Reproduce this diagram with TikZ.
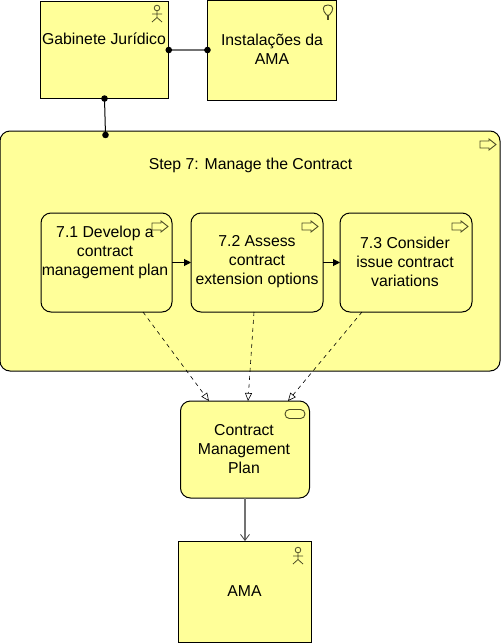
\documentclass[tikz,border=0pt]{standalone}
\usepackage{fontspec}
\setmainfont{Liberation Sans}
\usetikzlibrary{arrows.meta,calc,positioning}
\definecolor{boxfill}{HTML}{FFFF99}
\definecolor{iconline}{HTML}{4D4D26}
\tikzset{
  actorbox/.style={draw=black,fill=boxfill,line width=1pt,inner sep=0pt,outer sep=0pt},
  stepbox/.style={actorbox,rounded corners=10pt},
  boxtext/.style={align=center,font=\fontsize{15.8}{19}\selectfont,inner sep=0pt},
  assoc/.style={{Circle[black,length=6.5pt]}-{Circle[black,length=6.5pt]},shorten <=-3.2pt,shorten >=-3.2pt},
  flow/.style={-{Triangle[length=7pt,width=7pt]},line width=1pt},
  realize/.style={-{Triangle[open,length=8pt,width=7pt]},line width=0.6pt,dash pattern=on 4pt off 4pt},
  serve/.style={-{Straight Barb[black!75,length=6pt,width=9pt,line width=0.8pt]},line width=1.4pt,draw=black!55},
  actoricon/.pic={
    \draw[iconline,line width=0.8pt] (0,0) circle (2.8);
    \draw[iconline,line width=0.8pt] (0,2.8) -- (0,9.5) (-5,6) -- (5,6) (-5,14) -- (0,9.5) -- (5,14);
  },
  arrowicon/.pic={
    \draw[iconline,line width=0.9pt] (0,2) -- (9,2) -- (9,0) -- (16,5.5) -- (9,11) -- (9,9) -- (0,9) -- cycle;
  },
  bulbicon/.pic={
    \draw[iconline,line width=0.9pt] (-1.5,10) .. controls (-6,5) and (-6,0) .. (0,0) .. controls (6,0) and (6,5) .. (1.5,10) -- cycle;
    \draw[iconline,line width=1.6pt] (0,10) -- (0,15);
  },
}
\begin{document}
\begin{tikzpicture}[x=1pt,y=-1pt]
  \useasboundingbox (0,0) rectangle (502,643);
  % outer step and its sub-steps
  \node[stepbox,minimum width=500pt,minimum height=240pt] (step7) at (250,251) {};
  \foreach \name/\cx/\boxw in {p71/106.5/131, p72/257/132, p73/406/132} {
    \node[stepbox,minimum width=\boxw pt,minimum height=99pt] (\name) at (\cx,262.5) {};
  }
  % boxes outside the step
  \node[actorbox,minimum width=128.5pt,minimum height=97pt] (gab) at (104.5,50) {};
  \node[actorbox,minimum width=129pt,minimum height=100pt] (inst) at (272,50) {};
  \node[stepbox,minimum width=129pt,minimum height=97pt] (plan) at (245,449.5) {};
  \node[actorbox,minimum width=133.5pt,minimum height=101pt] (ama) at (245,591.5) {};
  % texts
  \node[boxtext] (gabtext) at (104,39) {Gabinete Jurídico};
  \node[boxtext] (insttext) at (272,49) {Instalações da\\AMA};
  \node[boxtext] (steptext) at (250.5,165) {Step 7: Manage the Contract};
  \node[boxtext] (p71text) at (105,252) {7.1 Develop a\\contract\\management plan};
  \node[boxtext] (p72text) at (257,262) {7.2 Assess\\contract\\extension options};
  \node[boxtext] (p73text) at (405,262) {7.3 Consider\\issue contract\\variations};
  \node[boxtext] (plantext) at (244,449) {Contract\\Management\\Plan};
  \node[boxtext] (amatext) at (244.5,591) {AMA};
  % icons
  \pic at (157,8) {actoricon};
  \pic at (298,550) {actoricon};
  \pic at (328,5) {bulbicon};
  \pic at (480,139) {arrowicon};
  \foreach \ix in {152,302,452} {
    \pic at (\ix,221) {arrowicon};
  }
  \draw[iconline,line width=0.9pt,rounded corners=4.4pt] (285,409.5) rectangle (305,418.5);
  % free ends of the connectors
  \coordinate (gabin) at (105.5,135);
  \coordinate (out1) at (143,312);
  \coordinate (out2) at (254,312);
  \coordinate (out3) at (362,312);
  \coordinate (in1) at (209,401);
  \coordinate (in2) at (248,401);
  \coordinate (in3) at (288,401);
  % connectors
  \draw[assoc,line width=1.4pt,draw=black!55] (gab.east) -- (inst.west);
  \draw[assoc,line width=1pt] (gab.south) -- (gabin);
  \draw[flow] (p71.east) -- (p72.west);
  \draw[flow] (p72.east) -- (p73.west);
  \draw[realize] (out1) -- (in1);
  \draw[realize] (out2) -- (in2);
  \draw[realize] (out3) -- (in3);
  \draw[serve] (plan.south) -- (ama.north);
\end{tikzpicture}
\end{document}
